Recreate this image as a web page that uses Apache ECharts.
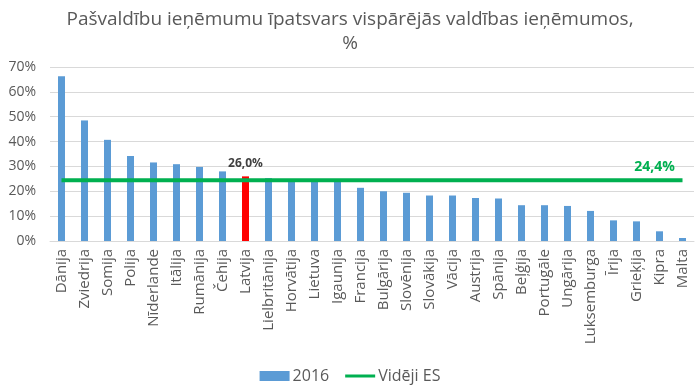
<!DOCTYPE html>
<html><head><meta charset="utf-8">
<script src="https://cdn.jsdelivr.net/npm/echarts@6/dist/echarts.min.js"></script>
<style>html,body{margin:0;padding:0;background:#fff}#c{width:700px;height:390px}</style>
</head><body><div id="c"></div>
<script>
const titleText = 'Pašvaldību ieņēmumu īpatsvars vispārējās valdības ieņēmumos,\n%';
const categories = ['Dānija','Zviedrija','Somija','Polija','Nīderlande','Itālija','Rumānija','Čehija','Latvija','Lielbritānija','Horvātija','Lietuva','Igaunija','Francija','Bulgārija','Slovēnija','Slovākija','Vācija','Austrija','Spānija','Beļģija','Portugāle','Ungārija','Luksemburga','Īrija','Grieķija','Kipra','Malta'];
const values2016 = [66.3,48.5,40.7,34.2,31.6,30.9,29.8,28.0,26.0,25.3,24.6,24.4,24.2,21.4,20.0,19.4,18.3,18.3,17.3,17.1,14.4,14.4,14.1,12.1,8.3,7.9,3.9,1.2];
const euAverage = 24.4;
const highlightCategory = 'Latvija';
const seriesNames = ['2016','Vidēji ES'];
const yTicks = {min:0, max:70, interval:10};

const txt = '#595959';
const font = '"Open Sans", sans-serif';
const fmt = v => v.toFixed(1).replace('.',',')+'%';
const chart = echarts.init(document.getElementById('c'));
const barData = values2016.map((v,i)=>{
  if (categories[i]===highlightCategory) {
    return {value:v, itemStyle:{color:'#FF0000'},
      label:{show:true, position:'top', formatter:p=>fmt(p.value), color:'#404040', fontWeight:'bold', fontSize:12, fontFamily:font, distance:7}};
  }
  return v;
});
const lastIdx = categories.length-1;
const lineData = categories.map(()=>euAverage);
chart.setOption({
  animation:false,
  textStyle:{fontFamily:font},
  title:{text:titleText, left:'center', top:3, textStyle:{fontFamily:font, fontSize:19, fontWeight:'normal', color:txt, lineHeight:24}},
  grid:{left:50, right:6, top:67, bottom:149, containLabel:false},
  legend:{bottom:1, left:'center', itemGap:16, itemWidth:30, itemHeight:10,
    textStyle:{fontFamily:font, fontSize:16, color:txt, padding:[0,0,0,-2]},
    data:[{name:seriesNames[0], icon:'rect', itemStyle:{color:'#5B9BD5'}},
          {name:seriesNames[1], icon:'path://M0,0L30,0L30,3L0,3Z', itemStyle:{color:'#00B050', borderWidth:0}, lineStyle:{width:0}}]},
  xAxis:{type:'category', data:categories, boundaryGap:true,
    axisLine:{lineStyle:{color:'#D9D9D9'}}, axisTick:{show:false},
    axisLabel:{rotate:90, interval:0, color:txt, fontSize:15, fontFamily:font, margin:8}},
  yAxis:{type:'value', min:yTicks.min, max:yTicks.max, interval:yTicks.interval,
    axisLabel:{formatter:'{value}%', color:txt, fontSize:14, fontFamily:font, margin:14},
    axisLine:{show:false}, axisTick:{show:false},
    splitLine:{lineStyle:{color:'#D9D9D9', width:1}}},
  series:[
    {name:seriesNames[0], type:'bar', data:barData, barWidth:7, itemStyle:{color:'#5B9BD5'}},
    {name:seriesNames[1], type:'line', data:lineData, symbol:'circle', symbolSize:0.1, showSymbol:true,
      lineStyle:{color:'#00B050', width:4}, itemStyle:{color:'#00B050'}, z:5,
      label:{show:true, position:'top', offset:[-28,-1], formatter:p=>p.dataIndex===lastIdx?fmt(p.value):'',
        color:'#00B050', fontWeight:'bold', fontSize:14, fontFamily:font}}
  ]
});
</script></body></html>
